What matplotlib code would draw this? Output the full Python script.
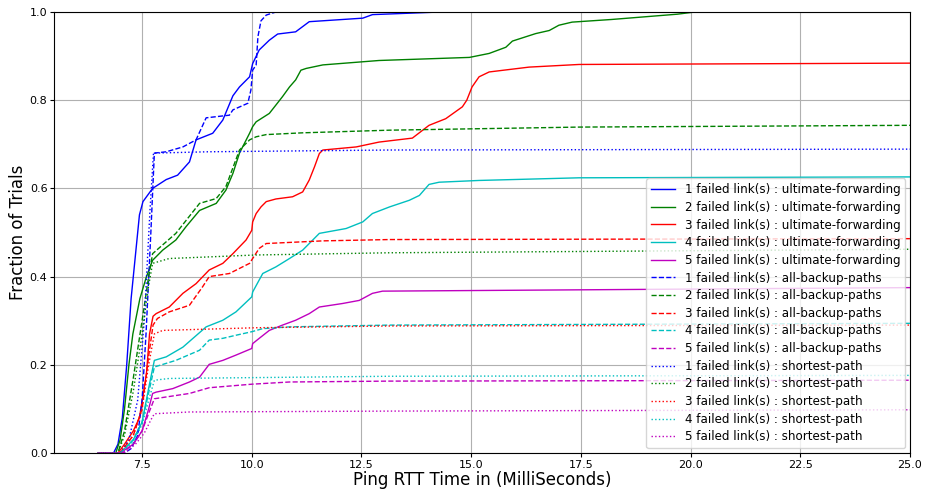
import matplotlib
matplotlib.use("Agg")
import matplotlib.pyplot as plt

# CDF points (RTT in ms, fraction of trials)
uf1_x = [6.5, 6.85, 6.95, 7.05, 7.15, 7.25, 7.35, 7.44, 7.52, 7.74, 8.05, 8.31, 8.58, 8.73, 9.11, 9.34,
         9.57, 9.72, 9.95, 10.02, 10.17, 10.4, 10.59, 11.0, 11.31, 12.53, 12.75, 14.3, 25.0]
uf1_y = [0, 0, 0.02, 0.08, 0.2, 0.35, 0.45, 0.54, 0.57, 0.60, 0.62, 0.63, 0.66, 0.71, 0.725, 0.755,
         0.81, 0.83, 0.853, 0.883, 0.914, 0.936, 0.95, 0.955, 0.978, 0.986, 0.994, 1.0, 1.0]

uf2_x = [6.5, 6.9, 7.0, 7.1, 7.2, 7.29, 7.45, 7.6, 7.74, 7.97, 8.27, 8.5, 8.81, 9.19, 9.41, 9.57, 9.72,
         9.95, 10.02, 10.1, 10.4, 10.7, 10.86, 11.0, 11.12, 11.24, 11.62, 12.9, 14.96, 15.41, 15.79,
         15.94, 16.47, 16.78, 17.0, 17.3, 18.2, 19.7, 20.1, 25.0]
uf2_y = [0, 0, 0.03, 0.1, 0.2, 0.27, 0.35, 0.4, 0.437, 0.46, 0.483, 0.513, 0.55, 0.566, 0.596, 0.634,
         0.68, 0.725, 0.74, 0.751, 0.77, 0.808, 0.83, 0.846, 0.868, 0.872, 0.88, 0.89, 0.897, 0.906,
         0.92, 0.934, 0.951, 0.958, 0.97, 0.977, 0.983, 0.995, 1.0, 1.0]

uf3_x = [6.5, 6.95, 7.1, 7.3, 7.44, 7.6, 7.67, 7.75, 7.82, 8.12, 8.43, 8.73, 9.03, 9.34, 9.57, 9.87,
         10.0, 10.02, 10.1, 10.21, 10.33, 10.55, 10.93, 11.16, 11.31, 11.43, 11.54, 11.62, 12.38,
         12.9, 13.66, 14.04, 14.42, 14.8, 14.9, 15.02, 15.18, 15.41, 16.32, 17.46, 25.0]
uf3_y = [0, 0, 0.02, 0.05, 0.08, 0.18, 0.27, 0.31, 0.316, 0.331, 0.362, 0.384, 0.415, 0.43, 0.452,
         0.483, 0.505, 0.524, 0.543, 0.558, 0.57, 0.576, 0.581, 0.592, 0.619, 0.649, 0.679, 0.687,
         0.694, 0.705, 0.714, 0.743, 0.758, 0.785, 0.8, 0.83, 0.853, 0.864, 0.875, 0.881, 0.884]

uf4_x = [6.5, 7.0, 7.3, 7.5, 7.67, 7.78, 8.05, 8.43, 8.96, 9.34, 9.64, 10.0, 10.02, 10.25, 10.55,
         10.86, 11.16, 11.46, 11.54, 12.15, 12.53, 12.75, 13.14, 13.59, 13.82, 14.04, 14.27, 15.18,
         17.46, 25.0]
uf4_y = [0, 0, 0.03, 0.07, 0.157, 0.21, 0.218, 0.24, 0.286, 0.301, 0.32, 0.354, 0.365, 0.407, 0.422,
         0.441, 0.46, 0.49, 0.498, 0.509, 0.524, 0.543, 0.558, 0.573, 0.584, 0.609, 0.614, 0.618,
         0.624, 0.626]

uf5_x = [6.5, 7.0, 7.3, 7.5, 7.65, 7.74, 7.82, 8.2, 8.58, 8.81, 9.03, 9.34, 9.64, 10.0, 10.02, 10.17,
         10.4, 10.7, 11.0, 11.31, 11.54, 12.07, 12.45, 12.75, 12.98, 25.0]
uf5_y = [0, 0, 0.02, 0.05, 0.1, 0.135, 0.138, 0.146, 0.161, 0.172, 0.201, 0.21, 0.222, 0.237, 0.248,
         0.26, 0.278, 0.29, 0.301, 0.316, 0.331, 0.339, 0.346, 0.362, 0.367, 0.375]

ab1_x = [6.5, 7.1, 7.25, 7.4, 7.5, 7.59, 7.7, 7.78, 8.05, 8.43, 8.73, 8.96, 9.49, 9.57, 9.91, 9.98,
         10.02, 10.1, 10.14, 10.21, 10.33, 10.55, 25.0]
ab1_y = [0, 0, 0.01, 0.04, 0.12, 0.27, 0.5, 0.68, 0.683, 0.694, 0.71, 0.76, 0.766, 0.778, 0.793,
         0.823, 0.868, 0.88, 0.944, 0.98, 0.993, 1.0, 1.0]

ab2_x = [6.5, 6.95, 7.1, 7.3, 7.5, 7.65, 7.74, 8.27, 8.81, 9.19, 9.41, 9.72, 9.95, 10.1, 10.33, 11.16,
         13.14, 17.46, 25.0]
ab2_y = [0, 0, 0.05, 0.17, 0.3, 0.4, 0.452, 0.498, 0.566, 0.577, 0.604, 0.687, 0.71, 0.717, 0.722,
         0.726, 0.732, 0.739, 0.743]

ab3_x = [6.5, 7.0, 7.3, 7.5, 7.65, 7.75, 7.85, 8.12, 8.58, 8.88, 9.03, 9.49, 9.95, 10.02, 10.17,
         10.33, 11.62, 13.14, 25.0]
ab3_y = [0, 0, 0.04, 0.1, 0.22, 0.29, 0.305, 0.32, 0.335, 0.377, 0.4, 0.407, 0.43, 0.441, 0.464,
         0.475, 0.481, 0.484, 0.486]

ab4_x = [6.5, 7.0, 7.3, 7.5, 7.68, 7.78, 8.27, 8.81, 9.03, 9.34, 9.64, 10.0, 10.25, 10.86, 13.14, 25.0]
ab4_y = [0, 0, 0.03, 0.07, 0.15, 0.195, 0.21, 0.233, 0.256, 0.26, 0.267, 0.275, 0.282, 0.286, 0.29,
         0.294]

ab5_x = [6.5, 7.05, 7.3, 7.5, 7.65, 7.78, 8.58, 9.03, 10.0, 10.86, 13.14, 25.0]
ab5_y = [0, 0, 0.02, 0.05, 0.09, 0.123, 0.135, 0.148, 0.156, 0.161, 0.163, 0.165]

sp1_x = [6.5, 7.0, 7.2, 7.4, 7.55, 7.68, 7.76, 9.0, 13.14, 25.0]
sp1_y = [0, 0, 0.03, 0.12, 0.3, 0.55, 0.68, 0.683, 0.687, 0.689]

sp2_x = [6.5, 6.95, 7.1, 7.3, 7.5, 7.65, 7.74, 8.12, 10.1, 13.14, 25.0]
sp2_y = [0, 0, 0.04, 0.14, 0.27, 0.38, 0.43, 0.441, 0.449, 0.454, 0.462]

sp3_x = [6.5, 7.0, 7.3, 7.5, 7.65, 7.78, 7.97, 10.1, 13.14, 25.0]
sp3_y = [0, 0, 0.04, 0.1, 0.2, 0.27, 0.278, 0.284, 0.288, 0.29]

sp4_x = [6.5, 7.0, 7.3, 7.5, 7.68, 7.78, 8.12, 13.14, 25.0]
sp4_y = [0, 0, 0.025, 0.065, 0.13, 0.165, 0.169, 0.174, 0.176]

sp5_x = [6.5, 7.1, 7.35, 7.55, 7.7, 7.78, 8.58, 13.14, 25.0]
sp5_y = [0, 0, 0.02, 0.045, 0.075, 0.089, 0.093, 0.095, 0.098]

colors = ['b', 'g', 'r', 'c', 'm']

fig = plt.figure(figsize=(9.27, 4.91), dpi=100)
ax = fig.add_axes([0.0586, 0.0774, 0.923, 0.8982])

uf = [(uf1_x, uf1_y), (uf2_x, uf2_y), (uf3_x, uf3_y), (uf4_x, uf4_y), (uf5_x, uf5_y)]
ab = [(ab1_x, ab1_y), (ab2_x, ab2_y), (ab3_x, ab3_y), (ab4_x, ab4_y), (ab5_x, ab5_y)]
sp = [(sp1_x, sp1_y), (sp2_x, sp2_y), (sp3_x, sp3_y), (sp4_x, sp4_y), (sp5_x, sp5_y)]

for name, style, series in [("ultimate-forwarding", '-', uf),
                            ("all-backup-paths", '--', ab),
                            ("shortest-path", ':', sp)]:
    for i, (x, y) in enumerate(series):
        ax.plot(x, y, style, color=colors[i], linewidth=1,
                label="%d failed link(s) : %s" % (i + 1, name))

ax.set_xlim(5.5, 25.0)
ax.set_ylim(0, 1.0)
ax.grid(True)
ax.tick_params(labelsize=8, length=3, pad=2)
ax.set_xlabel("Ping RTT Time in (MilliSeconds)", fontsize=12, labelpad=1)
ax.set_ylabel("Fraction of Trials", fontsize=12, labelpad=2)
ax.legend(loc='lower right', fontsize=8.6, labelspacing=0.39, borderaxespad=0.4)

plt.savefig("out.png", dpi=100)
